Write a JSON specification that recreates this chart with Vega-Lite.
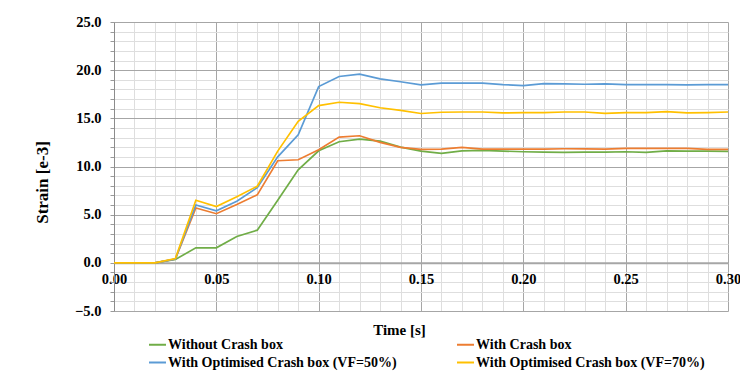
{
  "$schema": "https://vega.github.io/schema/vega-lite/v6.json",
  "width": 614,
  "height": 289,
  "autosize": {"type": "none"},
  "padding": {"left": 114, "top": 22, "right": 12, "bottom": 61},
  "background": "white",
  "config": {
    "view": {"stroke": "#c8c8c8", "strokeWidth": 1},
    "font": "Liberation Serif",
    "axis": {"labelFont": "Liberation Serif", "titleFont": "Liberation Serif", "labelFontWeight": "bold", "titleFontWeight": "bold", "labelColor": "#000000", "titleColor": "#000000"},
    "legend": {"labelFont": "Liberation Serif", "labelFontWeight": "bold", "labelColor": "#000000"}
  },
  "data": {
    "values": [
      {"t": 0.00, "Without Crash box": 0, "With Crash box": 0, "With Optimised Crash box (VF=50%)": 0, "With Optimised Crash box (VF=70%)": 0},
      {"t": 0.01, "Without Crash box": 0, "With Crash box": 0, "With Optimised Crash box (VF=50%)": 0, "With Optimised Crash box (VF=70%)": 0},
      {"t": 0.02, "Without Crash box": 0, "With Crash box": 0, "With Optimised Crash box (VF=50%)": 0, "With Optimised Crash box (VF=70%)": 0},
      {"t": 0.03, "Without Crash box": 0.35, "With Crash box": 0.4, "With Optimised Crash box (VF=50%)": 0.4, "With Optimised Crash box (VF=70%)": 0.45},
      {"t": 0.04, "Without Crash box": 1.56, "With Crash box": 5.7, "With Optimised Crash box (VF=50%)": 6.0, "With Optimised Crash box (VF=70%)": 6.5},
      {"t": 0.05, "Without Crash box": 1.56, "With Crash box": 5.1, "With Optimised Crash box (VF=50%)": 5.4, "With Optimised Crash box (VF=70%)": 5.85},
      {"t": 0.06, "Without Crash box": 2.73, "With Crash box": 6.05, "With Optimised Crash box (VF=50%)": 6.4, "With Optimised Crash box (VF=70%)": 6.85},
      {"t": 0.07, "Without Crash box": 3.39, "With Crash box": 7.06, "With Optimised Crash box (VF=50%)": 7.8, "With Optimised Crash box (VF=70%)": 7.95},
      {"t": 0.08, "Without Crash box": 6.5, "With Crash box": 10.6, "With Optimised Crash box (VF=50%)": 11.0, "With Optimised Crash box (VF=70%)": 11.6},
      {"t": 0.09, "Without Crash box": 9.65, "With Crash box": 10.7, "With Optimised Crash box (VF=50%)": 13.3, "With Optimised Crash box (VF=70%)": 14.7},
      {"t": 0.10, "Without Crash box": 11.63, "With Crash box": 11.74, "With Optimised Crash box (VF=50%)": 18.3, "With Optimised Crash box (VF=70%)": 16.32},
      {"t": 0.11, "Without Crash box": 12.57, "With Crash box": 13.05, "With Optimised Crash box (VF=50%)": 19.34, "With Optimised Crash box (VF=70%)": 16.67},
      {"t": 0.12, "Without Crash box": 12.85, "With Crash box": 13.19, "With Optimised Crash box (VF=50%)": 19.58, "With Optimised Crash box (VF=70%)": 16.53},
      {"t": 0.13, "Without Crash box": 12.64, "With Crash box": 12.5, "With Optimised Crash box (VF=50%)": 19.1, "With Optimised Crash box (VF=70%)": 16.1},
      {"t": 0.14, "Without Crash box": 12.01, "With Crash box": 11.98, "With Optimised Crash box (VF=50%)": 18.8, "With Optimised Crash box (VF=70%)": 15.83},
      {"t": 0.15, "Without Crash box": 11.6, "With Crash box": 11.78, "With Optimised Crash box (VF=50%)": 18.47, "With Optimised Crash box (VF=70%)": 15.5},
      {"t": 0.16, "Without Crash box": 11.36, "With Crash box": 11.81, "With Optimised Crash box (VF=50%)": 18.65, "With Optimised Crash box (VF=70%)": 15.63},
      {"t": 0.17, "Without Crash box": 11.63, "With Crash box": 11.98, "With Optimised Crash box (VF=50%)": 18.65, "With Optimised Crash box (VF=70%)": 15.66},
      {"t": 0.18, "Without Crash box": 11.67, "With Crash box": 11.81, "With Optimised Crash box (VF=50%)": 18.65, "With Optimised Crash box (VF=70%)": 15.66},
      {"t": 0.19, "Without Crash box": 11.6, "With Crash box": 11.81, "With Optimised Crash box (VF=50%)": 18.5, "With Optimised Crash box (VF=70%)": 15.56},
      {"t": 0.20, "Without Crash box": 11.53, "With Crash box": 11.81, "With Optimised Crash box (VF=50%)": 18.4, "With Optimised Crash box (VF=70%)": 15.6},
      {"t": 0.21, "Without Crash box": 11.5, "With Crash box": 11.81, "With Optimised Crash box (VF=50%)": 18.6, "With Optimised Crash box (VF=70%)": 15.6},
      {"t": 0.22, "Without Crash box": 11.46, "With Crash box": 11.84, "With Optimised Crash box (VF=50%)": 18.57, "With Optimised Crash box (VF=70%)": 15.66},
      {"t": 0.23, "Without Crash box": 11.5, "With Crash box": 11.84, "With Optimised Crash box (VF=50%)": 18.54, "With Optimised Crash box (VF=70%)": 15.66},
      {"t": 0.24, "Without Crash box": 11.5, "With Crash box": 11.81, "With Optimised Crash box (VF=50%)": 18.57, "With Optimised Crash box (VF=70%)": 15.52},
      {"t": 0.25, "Without Crash box": 11.53, "With Crash box": 11.88, "With Optimised Crash box (VF=50%)": 18.5, "With Optimised Crash box (VF=70%)": 15.6},
      {"t": 0.26, "Without Crash box": 11.46, "With Crash box": 11.88, "With Optimised Crash box (VF=50%)": 18.5, "With Optimised Crash box (VF=70%)": 15.6},
      {"t": 0.27, "Without Crash box": 11.63, "With Crash box": 11.88, "With Optimised Crash box (VF=50%)": 18.5, "With Optimised Crash box (VF=70%)": 15.7},
      {"t": 0.28, "Without Crash box": 11.6, "With Crash box": 11.88, "With Optimised Crash box (VF=50%)": 18.47, "With Optimised Crash box (VF=70%)": 15.56},
      {"t": 0.29, "Without Crash box": 11.6, "With Crash box": 11.77, "With Optimised Crash box (VF=50%)": 18.5, "With Optimised Crash box (VF=70%)": 15.6},
      {"t": 0.30, "Without Crash box": 11.56, "With Crash box": 11.77, "With Optimised Crash box (VF=50%)": 18.5, "With Optimised Crash box (VF=70%)": 15.66}
    ]
  },
  "transform": [
    {"fold": ["Without Crash box", "With Crash box", "With Optimised Crash box (VF=50%)", "With Optimised Crash box (VF=70%)"], "as": ["series", "strain"]}
  ],
  "layer": [
    {
      "mark": {"type": "line", "strokeWidth": 1.7, "clip": true},
      "encoding": {
        "x": {
          "field": "t", "type": "quantitative",
          "scale": {"domain": [0, 0.3], "nice": false, "zero": false},
          "axis": {"orient": "bottom", "values": [0,0.01,0.02,0.03,0.04,0.05,0.06,0.07,0.08,0.09,0.1,0.11,0.12,0.13,0.14,0.15,0.16,0.17,0.18,0.19,0.2,0.21,0.22,0.23,0.24,0.25,0.26,0.27,0.28,0.29,0.3],
                   "grid": true, "gridColor": "#dedede", "gridWidth": 1, "labels": false, "ticks": false, "domain": false, "title": null}
        },
        "y": {
          "field": "strain", "type": "quantitative",
          "scale": {"domain": [-5, 25], "nice": false},
          "axis": {"orient": "left", "values": [-5,-4,-3,-2,-1,0,1,2,3,4,5,6,7,8,9,10,11,12,13,14,15,16,17,18,19,20,21,22,23,24,25],
                   "grid": true, "gridColor": "#dedede", "gridWidth": 1, "labels": false, "ticks": true, "tickSize": 4, "tickColor": "#9a9a9a", "domain": false, "title": null}
        },
        "color": {
          "field": "series", "type": "nominal",
          "scale": {
            "domain": ["Without Crash box", "With Crash box", "With Optimised Crash box (VF=50%)", "With Optimised Crash box (VF=70%)"],
            "range": ["#70AD47", "#ED7D31", "#5B9BD5", "#FFC000"]
          },
          "legend": {
            "title": null, "orient": "none", "direction": "horizontal", "legendX": 34, "legendY": 313, "columns": 2, "columnPadding": 56, "rowPadding": 1, "padding": 0,
            "symbolType": "stroke", "symbolSize": 289, "symbolStrokeWidth": 2, "labelFontSize": 14, "labelOffset": 1, "labelLimit": 400
          }
        }
      }
    },
    {
      "mark": {"type": "line", "strokeOpacity": 0},
      "encoding": {
        "x": {
          "field": "t", "type": "quantitative",
          "axis": {"orient": "bottom", "values": [0, 0.05, 0.1, 0.15, 0.2, 0.25, 0.3], "format": ".2f",
                   "grid": true, "gridColor": "#a6a6a6", "gridWidth": 1,
                   "offset": -48.2, "domain": true, "domainColor": "#a6a6a6", "domainWidth": 2,
                   "ticks": false, "tickSize": 0, "labelPadding": 10, "labelFontSize": 14.5, "labelFlush": false,
                   "title": "Time [s]", "titleFontSize": 15, "titleX": 285, "titleY": 67, "titleBaseline": "middle", "titleAlign": "center"}
        },
        "y": {
          "field": "strain", "type": "quantitative",
          "axis": {"orient": "left", "values": [-5, 0, 5, 10, 15, 20, 25], "format": ".1f",
                   "grid": true, "gridColor": "#a6a6a6", "gridWidth": 1,
                   "domain": true, "domainColor": "#8c8c8c", "domainWidth": 1,
                   "ticks": false, "tickSize": 0, "labelPadding": 13, "labelFontSize": 14.5, "labelFlush": false,
                   "title": "Strain [e-3]", "titleFontSize": 17, "titleX": -72, "titleY": 160, "titleBaseline": "middle", "titleAlign": "center", "titleAngle": -90}
        },
        "detail": {"field": "series", "type": "nominal"}
      }
    }
  ],
  "resolve": {"axis": {"x": "independent", "y": "independent"}}
}
